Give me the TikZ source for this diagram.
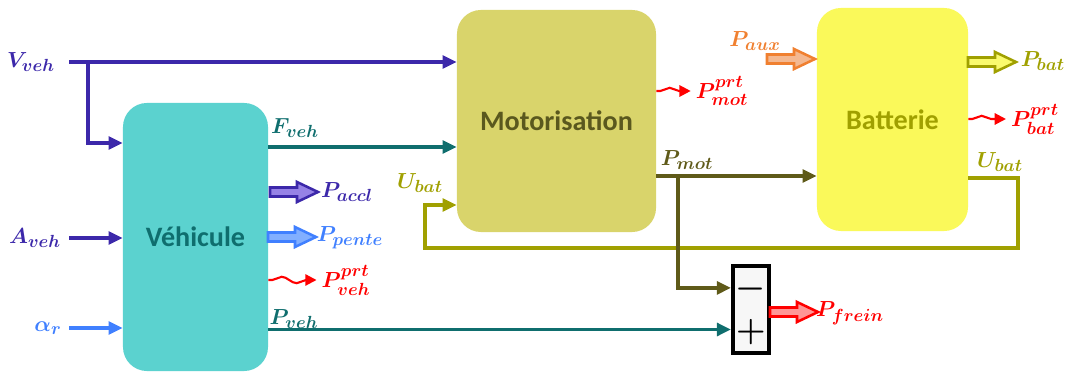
\RequirePackage{fix-cm}
\documentclass[tikz,border=0pt]{standalone}
\usepackage{fontspec}
\setsansfont{Carlito}
\usepackage{amsmath, bm}
\usetikzlibrary{arrows.meta, decorations.pathmorphing, positioning}
\DeclareMathSizes{15.5}{15.5}{12.5}{10}

\definecolor{indigo}{RGB}{60,40,170}
\definecolor{blueA}{RGB}{64,128,255}
\definecolor{tealL}{RGB}{15,110,110}
\definecolor{vehfill}{RGB}{91,210,207}
\definecolor{motfill}{RGB}{217,212,107}
\definecolor{mottext}{RGB}{90,88,30}
\definecolor{darkolive}{RGB}{95,90,25}
\definecolor{oliveL}{RGB}{160,160,0}
\definecolor{batfill}{RGB}{250,249,90}
\definecolor{orangeL}{RGB}{240,128,48}
\definecolor{auxfill}{RGB}{244,184,144}
\definecolor{accfill}{RGB}{150,130,230}
\definecolor{pentefill}{RGB}{130,175,255}
\definecolor{pbatfill}{RGB}{250,250,110}
\definecolor{freinfill}{RGB}{255,150,150}

\tikzset{
    blk/.style={rounded corners=0.6cm, font=\sffamily\bfseries\fontsize{20}{24}\selectfont},
    lbl/.style={inner sep=1.5pt, font=\fontsize{15.5}{18}\selectfont},
    sig/.style={draw=#1, line width=2.6pt, line join=miter, -{Triangle[length=10pt,width=9pt]}},
    wavy/.style={draw=red, line width=1.5pt, decorate,
        decoration={snake, amplitude=0.08cm, segment length=0.75cm, pre length=0.1cm, post length=0.3cm},
        -{Triangle[length=8pt,width=8pt]}},
    pics/fatarrow/.style args={#1/#2}{code={
        \draw[draw=#1, fill=#2, line width=1.8pt, line join=miter]
            (0,-4.5) -- (27,-4.5) -- (27,-10) -- (48,0) -- (27,10) -- (27,4.5) -- (0,4.5) -- cycle;
    }}
}

\begin{document}
\begin{tikzpicture}[x=0.025cm, y=-0.025cm]
    \useasboundingbox (0,0) rectangle (1067,372);

    % Blocks
    \node[blk, fill=vehfill, text=tealL, minimum width=3.625cm, minimum height=6.7cm] (veh) at (195.5,237) {Véhicule};
    \node[blk, fill=motfill, text=mottext, minimum width=4.975cm, minimum height=5.55cm] (mot) at (556.5,121) {Motorisation};
    \node[blk, fill=batfill, text=oliveL, minimum width=3.775cm, minimum height=5.575cm] (bat) at (892.5,119.5) {Batterie};
    \node[draw=black, line width=2.8pt, fill=gray!6, minimum width=0.9cm, minimum height=2.175cm] (sum) at (751,309.5) {};
    \node[font=\fontsize{24}{26}\selectfont] (minus) at (751,289) {$\bm{-}$};
    \node[font=\fontsize{24}{26}\selectfont] (plus) at (751,332) {$\bm{+}$};

    % Labels
    \foreach \n/\x/\y/\c/\t in {Vveh/31/62/indigo/V_{veh}, Aveh/35/238/indigo/A_{veh}, alphar/48/328/blueA/\alpha_r,
        Fveh/295/128/tealL/F_{veh}, Paccl/347/192/indigo/P_{accl}, Ppente/350/238/blueA/P_{pente},
        Pvehprt/346/280/red/P^{prt}_{veh}, Pveh/294/319/tealL/P_{veh}, Ubatl/420/183/oliveL/U_{bat},
        Pmot/687/160/darkolive/P_{mot}, Pmotprt/722/91/red/P^{prt}_{mot}, Paux/755/41/orangeL/P_{aux},
        Pbat/1043/61/oliveL/P_{bat}, Pbatprt/1035/119/red/P^{prt}_{bat}, Ubatr/1000/162/oliveL/U_{bat},
        Pfrein/850/313/red/P_{frein}} {
        \node[lbl, text=\c] (\n) at (\x,\y) {$\bm{\t}$};
    }

    % Inputs
    \coordinate (vstart) at (69,62);
    \coordinate (vsplit) at (88,62);
    \coordinate (astart) at (69,238);
    \coordinate (rstart) at (69,328);
    \draw[sig=indigo] (vstart) -- (vstart -| mot.west);
    \draw[sig=indigo] (vsplit) |- ([yshift=2.35cm]veh.west);
    \draw[sig=indigo] (astart) -- (astart -| veh.west);
    \draw[sig=blueA] (rstart) -- (rstart -| veh.west);

    % Vehicle outputs
    \coordinate (summinus) at ([yshift=0.54cm]sum.west);
    \coordinate (sumplus) at ([yshift=-0.5cm]sum.west);
    \draw[sig=tealL] ([yshift=2.25cm]veh.east) -- ([yshift=2.25cm]veh.east -| mot.west);
    \draw[sig=tealL] (veh.east |- sumplus) -- (sumplus);

    % Battery voltage loop
    \coordinate (ubatout) at ([yshift=-1.46cm]bat.east);
    \coordinate (uin) at ([yshift=-2.1cm]mot.west);
    \draw[sig=oliveL] (ubatout) -| (1018,248) -| ([xshift=-0.8cm]uin) -- (uin);

    % Motor power
    \coordinate (pmotout) at ([yshift=-1.375cm]mot.east);
    \draw[sig=darkolive] (pmotout) -- (pmotout -| bat.west);
    \draw[sig=darkolive] ([xshift=0.55cm]pmotout) |- (summinus);

    % Power block arrows
    \foreach \x/\y/\c/\f in {270/192/indigo/accfill, 268/237/blueA/pentefill, 767/59/orangeL/auxfill,
        968/62/oliveL/pbatfill, 770/312/red/freinfill} {
        \pic at (\x,\y) {fatarrow=\c/\f};
    }

    % Losses
    \draw[wavy, shorten >=2pt] (veh.east |- Pvehprt) -- (Pvehprt.west);
    \draw[wavy, shorten >=2pt] (mot.east |- Pmotprt) -- (Pmotprt.west);
    \draw[wavy, shorten >=2pt] (bat.east |- Pbatprt) -- (Pbatprt.west);
\end{tikzpicture}
\end{document}
